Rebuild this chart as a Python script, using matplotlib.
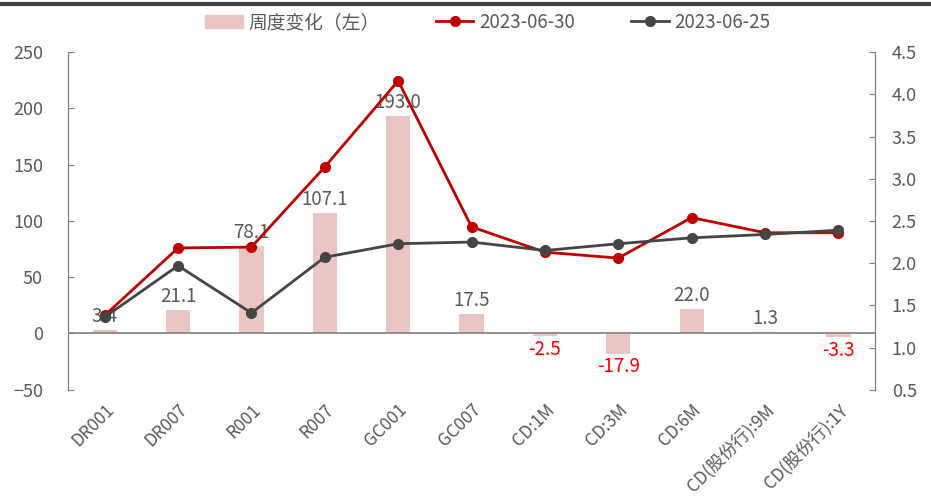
import matplotlib.pyplot as plt
import numpy as np
from matplotlib.lines import Line2D

plt.rcParams['font.family'] = ['Noto Sans CJK SC', 'DejaVu Sans']

categories = ["DR001", "DR007", "R001", "R007", "GC001", "GC007",
              "CD:1M", "CD:3M", "CD:6M", "CD(股份行):9M", "CD(股份行):1Y"]
weekly_change = [3.4, 21.1, 78.1, 107.1, 193.0, 17.5, -2.5, -17.9, 22.0, 1.3, -3.3]
rate_0630 = [1.38, 2.18, 2.19, 3.14, 4.16, 2.43, 2.13, 2.06, 2.54, 2.36, 2.36]
rate_0625 = [1.36, 1.97, 1.41, 2.07, 2.23, 2.25, 2.15, 2.23, 2.30, 2.34, 2.39]

bar_color = "#EBC4C4"
red = "#C00000"
gray = "#454545"
txt = "#595959"

fig = plt.figure(figsize=(9.31, 5.01), dpi=100)
ax = fig.add_axes([0.073, 0.222, 0.867, 0.674])
ax2 = ax.twinx()

x = np.arange(len(categories))
ax.bar(x, weekly_change, width=0.33, color=bar_color, zorder=2)
ax.axhline(0, color="#7f7f7f", lw=1.2, zorder=3)

for xi, v in zip(x, weekly_change):
    if v >= 0:
        ax.annotate(f"{v:.1f}", (xi, v), xytext=(0, 2), textcoords="offset points",
                    ha="center", va="bottom", fontsize=13.5, color=txt, zorder=4)
    else:
        ax.annotate(f"{v:.1f}", (xi, v), xytext=(0, -2), textcoords="offset points",
                    ha="center", va="top", fontsize=13.5, color="#FF0000", zorder=4)

ax2.plot(x, rate_0630, color=red, lw=2, marker="o", ms=7, zorder=5)
ax2.plot(x, rate_0625, color=gray, lw=2, marker="o", ms=7, zorder=6)

ax.set_xlim(-0.5, len(categories) - 0.5)
ax.set_ylim(-50, 250)
ax.set_yticks(np.arange(-50, 251, 50))
ax2.set_ylim(0.5, 4.5)
ax2.set_yticks(np.arange(0.5, 4.51, 0.5))
ax2.set_yticklabels([f"{v:.1f}" for v in np.arange(0.5, 4.51, 0.5)])

ax.set_xticks(x)
ax.set_xticklabels(categories, rotation=45, ha="right", rotation_mode="anchor")

for a in (ax, ax2):
    a.spines["top"].set_visible(False)
    a.spines["bottom"].set_visible(False)
    a.spines["left"].set_color("#7f7f7f")
    a.spines["right"].set_color("#7f7f7f")
    a.tick_params(axis="y", labelsize=13, labelcolor=txt, color="#7f7f7f",
                  direction="in", length=4)
ax.tick_params(axis="x", length=0, labelsize=12.5, labelcolor=txt, pad=8)
ax.tick_params(axis="y", pad=18)
ax2.tick_params(axis="y", pad=12)

handles = [plt.Rectangle((0, 0), 1, 1, color=bar_color),
           Line2D([], [], color=red, lw=2, marker="o", ms=7),
           Line2D([], [], color=gray, lw=2, marker="o", ms=7)]
fig.legend(handles, ["周度变化（左）", "2023-06-30", "2023-06-25"],
           loc="center", bbox_to_anchor=(0.524, 0.955), ncol=3, frameon=False,
           fontsize=13.5, labelcolor=txt, handlelength=2, columnspacing=3.0,
           handletextpad=0.3)

# dark header rule at the very top
fig.add_artist(Line2D([0, 1], [0.992, 0.992], color="#404040", lw=3,
                      transform=fig.transFigure))

fig.savefig("out.png", dpi=100)
